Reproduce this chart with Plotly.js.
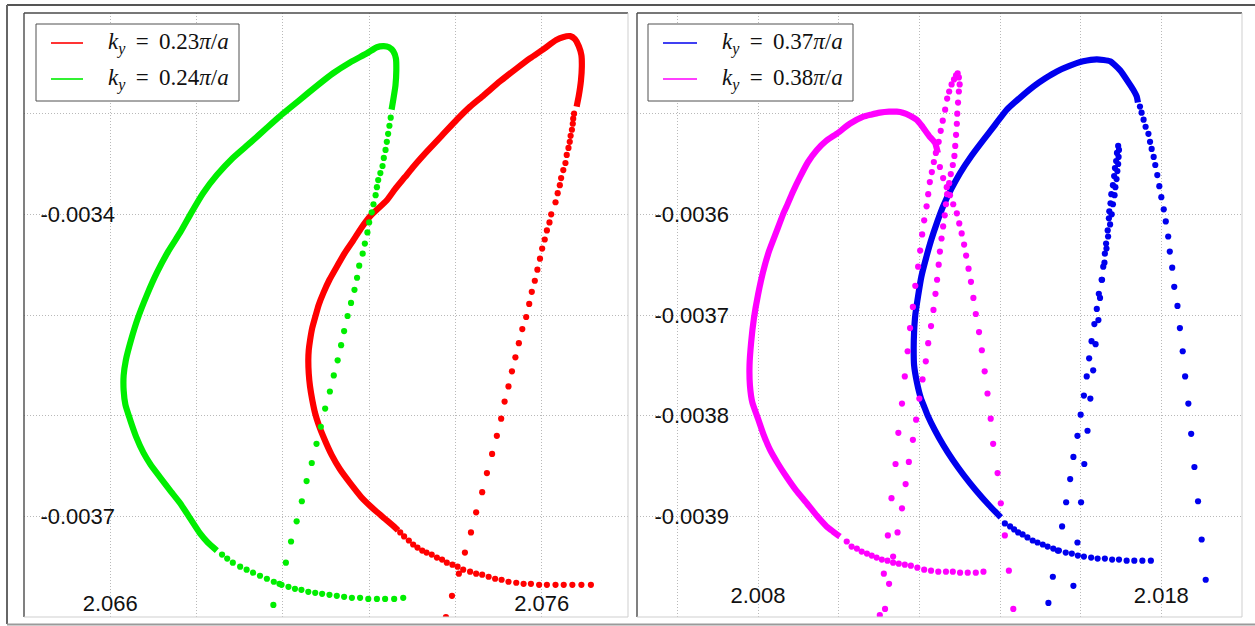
<!DOCTYPE html>
<html>
<head>
<meta charset="utf-8">
<script src="https://cdn.plot.ly/plotly-3.0.1.min.js"></script>
<style>html,body{margin:0;padding:0;background:#fff;}#chart{width:1255px;height:626px;}</style>
</head>
<body>
<div id="chart"></div>
<script>
// ---------- left panel: k_y = 0.23 pi/a (red) ----------
const red23LineX = [2.07681,2.07686,2.07691,2.07693,2.07692,2.07686,2.07677,2.07666,2.07649,2.07633,2.07604,2.07573,2.07542,2.07503,2.07465,2.07434,2.07403,2.07368,2.07333,2.07304,2.07283,2.07260,2.07241,2.07202,2.07181,2.07163,2.07144,2.07125,2.07108,2.07094,2.07083,2.07075,2.07068,2.07063,2.07060,2.07059,2.07060,2.07063,2.07068,2.07075,2.07083,2.07094,2.07113,2.07132,2.07156,2.07186,2.07216,2.07241,2.07260,2.07267];
const red23LineY = [-0.003293,-0.003282,-0.003267,-0.003253,-0.003242,-0.003233,-0.003226,-0.003223,-0.003224,-0.003227,-0.003236,-0.003245,-0.003255,-0.003268,-0.003282,-0.003293,-0.003306,-0.003322,-0.003338,-0.003352,-0.003363,-0.003375,-0.003386,-0.003402,-0.003414,-0.003426,-0.003438,-0.003452,-0.003465,-0.003478,-0.003490,-0.003502,-0.003513,-0.003525,-0.003535,-0.003545,-0.003558,-0.003571,-0.003584,-0.003598,-0.003609,-0.003621,-0.003639,-0.003653,-0.003667,-0.003683,-0.003695,-0.003704,-0.003711,-0.003714];
const red23BranchX = [2.07675,2.07673,2.07672,2.07670,2.07667,2.07665,2.07662,2.07658,2.07655,2.07650,2.07645,2.07642,2.07637,2.07632,2.07622,2.07618,2.07612,2.07607,2.07601,2.07596,2.07590,2.07584,2.07577,2.07571,2.07564,2.07555,2.07547,2.07539,2.07531,2.07523,2.07514,2.07506,2.07496,2.07485,2.07473,2.07462,2.07448,2.07436,2.07422,2.07408,2.07392,2.07378];
const red23BranchY = [-0.003300,-0.003305,-0.003310,-0.003316,-0.003322,-0.003328,-0.003334,-0.003341,-0.003349,-0.003356,-0.003364,-0.003371,-0.003379,-0.003388,-0.003400,-0.003408,-0.003416,-0.003425,-0.003434,-0.003444,-0.003455,-0.003466,-0.003477,-0.003489,-0.003502,-0.003514,-0.003528,-0.003542,-0.003556,-0.003571,-0.003586,-0.003603,-0.003620,-0.003638,-0.003657,-0.003676,-0.003696,-0.003716,-0.003736,-0.003757,-0.003779,-0.003800];
const red23TailX = [2.07272,2.07281,2.07292,2.07302,2.07312,2.07323,2.07333,2.07345,2.07357,2.07369,2.07380,2.07393,2.07405,2.07418,2.07434,2.07448,2.07462,2.07477,2.07492,2.07507,2.07523,2.07541,2.07558,2.07575,2.07594,2.07612,2.07632,2.07651,2.07671,2.07692,2.07714];
const red23TailY = [-0.003716,-0.003720,-0.003724,-0.003728,-0.003731,-0.003734,-0.003736,-0.003738,-0.003741,-0.003743,-0.003746,-0.003748,-0.003750,-0.003753,-0.003755,-0.003757,-0.003758,-0.003760,-0.003762,-0.003763,-0.003765,-0.003766,-0.003767,-0.003767,-0.003768,-0.003768,-0.003768,-0.003768,-0.003768,-0.003768,-0.003768];

// ---------- left panel: k_y = 0.24 pi/a (green) ----------
const green24LineX = [2.07252,2.07256,2.07261,2.07263,2.07262,2.07256,2.07246,2.07234,2.07218,2.07195,2.07156,2.07116,2.07077,2.07040,2.07000,2.06963,2.06924,2.06884,2.06847,2.06815,2.06787,2.06762,2.06734,2.06708,2.06685,2.06664,2.06648,2.06636,2.06631,2.06631,2.06635,2.06646,2.06660,2.06677,2.06694,2.06715,2.06738,2.06762,2.06785,2.06808,2.06826,2.06847];
const green24LineY = [-0.003296,-0.003286,-0.003272,-0.003257,-0.003245,-0.003238,-0.003234,-0.003233,-0.003234,-0.003240,-0.003249,-0.003260,-0.003273,-0.003286,-0.003300,-0.003314,-0.003329,-0.003344,-0.003361,-0.003379,-0.003399,-0.003418,-0.003437,-0.003458,-0.003480,-0.003503,-0.003525,-0.003545,-0.003560,-0.003575,-0.003589,-0.003604,-0.003621,-0.003637,-0.003649,-0.003661,-0.003674,-0.003687,-0.003702,-0.003717,-0.003726,-0.003734];
const green24BranchX = [2.07250,2.07247,2.07244,2.07241,2.07238,2.07234,2.07231,2.07226,2.07221,2.07218,2.07215,2.07210,2.07206,2.07200,2.07196,2.07190,2.07185,2.07177,2.07172,2.07166,2.07158,2.07150,2.07142,2.07135,2.07127,2.07118,2.07109,2.07098,2.07088,2.07078,2.07067,2.07055,2.07044,2.07032,2.07019,2.07007,2.06992,2.06978];
const green24BranchY = [-0.003304,-0.003312,-0.003320,-0.003328,-0.003336,-0.003344,-0.003352,-0.003359,-0.003366,-0.003373,-0.003381,-0.003390,-0.003398,-0.003408,-0.003418,-0.003429,-0.003439,-0.003451,-0.003463,-0.003475,-0.003488,-0.003501,-0.003516,-0.003530,-0.003545,-0.003560,-0.003576,-0.003593,-0.003611,-0.003628,-0.003647,-0.003665,-0.003685,-0.003705,-0.003725,-0.003746,-0.003767,-0.003788];
const green24TailX = [2.06859,2.06871,2.06884,2.06901,2.06916,2.06931,2.06947,2.06963,2.06979,2.06997,2.07013,2.07028,2.07043,2.07059,2.07075,2.07091,2.07108,2.07125,2.07142,2.07160,2.07179,2.07198,2.07218,2.07237,2.07258,2.07279];
const green24TailY = [-0.003738,-0.003742,-0.003746,-0.003750,-0.003753,-0.003756,-0.003759,-0.003762,-0.003765,-0.003768,-0.003770,-0.003772,-0.003773,-0.003775,-0.003776,-0.003777,-0.003778,-0.003779,-0.003780,-0.003781,-0.003781,-0.003782,-0.003782,-0.003782,-0.003782,-0.003781];

// ---------- right panel: k_y = 0.37 pi/a (blue) ----------
const blue37LineX = [2.01742,2.01739,2.01730,2.01717,2.01698,2.01673,2.01640,2.01606,2.01569,2.01541,2.01512,2.01483,2.01450,2.01417,2.01388,2.01359,2.01329,2.01301,2.01279,2.01259,2.01244,2.01229,2.01217,2.01205,2.01197,2.01190,2.01187,2.01186,2.01187,2.01194,2.01204,2.01214,2.01221,2.01238,2.01259,2.01283,2.01310,2.01340,2.01373,2.01402];
const blue37LineY = [-0.003489,-0.003483,-0.003476,-0.003468,-0.003457,-0.003448,-0.003446,-0.003448,-0.003453,-0.003458,-0.003465,-0.003473,-0.003484,-0.003496,-0.003511,-0.003526,-0.003542,-0.003559,-0.003575,-0.003592,-0.003608,-0.003626,-0.003643,-0.003662,-0.003681,-0.003700,-0.003717,-0.003733,-0.003750,-0.003767,-0.003783,-0.003793,-0.003800,-0.003814,-0.003829,-0.003844,-0.003859,-0.003874,-0.003889,-0.003901];
const blue37TailX = [2.01412,2.01425,2.01435,2.01445,2.01456,2.01468,2.01481,2.01493,2.01506,2.01518,2.01532,2.01546,2.01563,2.01578,2.01593,2.01608,2.01626,2.01642,2.01660,2.01678,2.01695,2.01714,2.01733,2.01753,2.01774];
const blue37TailY = [-0.003907,-0.003910,-0.003913,-0.003916,-0.003918,-0.003921,-0.003924,-0.003926,-0.003928,-0.003930,-0.003932,-0.003934,-0.003936,-0.003937,-0.003939,-0.003940,-0.003941,-0.003942,-0.003942,-0.003943,-0.003943,-0.003944,-0.003944,-0.003944,-0.003944];
const blue37OuterX = [2.01747,2.01751,2.01756,2.01761,2.01768,2.01772,2.01776,2.01781,2.01785,2.01790,2.01795,2.01800,2.01806,2.01811,2.01817,2.01821,2.01827,2.01832,2.01840,2.01846,2.01853,2.01859,2.01867,2.01874,2.01882,2.01891,2.01900,2.01910];
const blue37OuterY = [-0.003493,-0.003499,-0.003506,-0.003513,-0.003520,-0.003528,-0.003535,-0.003543,-0.003551,-0.003561,-0.003572,-0.003583,-0.003595,-0.003607,-0.003622,-0.003637,-0.003653,-0.003672,-0.003691,-0.003713,-0.003736,-0.003761,-0.003788,-0.003818,-0.003851,-0.003885,-0.003923,-0.003963];
const blue37SpikeLX = [2.01693,2.01690,2.01688,2.01685,2.01683,2.01680,2.01676,2.01674,2.01671,2.01670,2.01667,2.01663,2.01660,2.01656,2.01652,2.01645,2.01640,2.01634,2.01627,2.01621,2.01615,2.01608,2.01600,2.01592,2.01582,2.01574,2.01564,2.01554,2.01543,2.01531,2.01520];
const blue37SpikeLY = [-0.003532,-0.003539,-0.003547,-0.003554,-0.003562,-0.003571,-0.003580,-0.003589,-0.003597,-0.003604,-0.003616,-0.003629,-0.003639,-0.003652,-0.003665,-0.003679,-0.003694,-0.003709,-0.003726,-0.003743,-0.003761,-0.003780,-0.003799,-0.003820,-0.003841,-0.003863,-0.003886,-0.003910,-0.003934,-0.003960,-0.003986];
const blue37SpikeRX = [2.01695,2.01694,2.01693,2.01691,2.01689,2.01686,2.01684,2.01680,2.01677,2.01673,2.01668,2.01664,2.01659,2.01653,2.01648,2.01644,2.01637,2.01631,2.01624,2.01617,2.01609,2.01601,2.01592,2.01582];
const blue37SpikeRY = [-0.003536,-0.003543,-0.003550,-0.003557,-0.003565,-0.003573,-0.003581,-0.003590,-0.003600,-0.003610,-0.003622,-0.003634,-0.003648,-0.003665,-0.003683,-0.003705,-0.003729,-0.003755,-0.003783,-0.003815,-0.003848,-0.003886,-0.003926,-0.003969];

// ---------- right panel: k_y = 0.38 pi/a (magenta) ----------
const mag38LineX = [2.01246,2.01239,2.01224,2.01206,2.01193,2.01177,2.01159,2.01144,2.01125,2.01102,2.01080,2.01061,2.01028,2.00995,2.00969,2.00946,2.00924,2.00904,2.00886,2.00871,2.00863,2.00845,2.00827,2.00812,2.00800,2.00790,2.00783,2.00779,2.00780,2.00786,2.00801,2.00814,2.00830,2.00850,2.00871,2.00894,2.00921,2.00945,2.00970,2.00986,2.01003];
const mag38LineY = [-0.003539,-0.003529,-0.003522,-0.003512,-0.003506,-0.003502,-0.003499,-0.003498,-0.003498,-0.003499,-0.003501,-0.003503,-0.003510,-0.003520,-0.003527,-0.003536,-0.003548,-0.003563,-0.003578,-0.003592,-0.003599,-0.003618,-0.003637,-0.003658,-0.003680,-0.003703,-0.003727,-0.003750,-0.003770,-0.003787,-0.003804,-0.003819,-0.003834,-0.003848,-0.003861,-0.003874,-0.003887,-0.003899,-0.003910,-0.003915,-0.003920];
const mag38TailX = [2.01020,2.01032,2.01045,2.01057,2.01070,2.01082,2.01094,2.01107,2.01121,2.01135,2.01149,2.01164,2.01179,2.01195,2.01212,2.01229,2.01247,2.01266,2.01283,2.01301,2.01320,2.01340,2.01359];
const mag38TailY = [-0.003925,-0.003930,-0.003932,-0.003935,-0.003937,-0.003939,-0.003941,-0.003943,-0.003944,-0.003946,-0.003947,-0.003948,-0.003949,-0.003951,-0.003953,-0.003954,-0.003955,-0.003955,-0.003955,-0.003956,-0.003956,-0.003956,-0.003955];
const mag38OuterX = [2.01251,2.01259,2.01268,2.01276,2.01284,2.01293,2.01299,2.01305,2.01311,2.01316,2.01322,2.01328,2.01334,2.01340,2.01348,2.01355,2.01362,2.01369,2.01377,2.01383,2.01394,2.01402,2.01412,2.01422,2.01433];
const mag38OuterY = [-0.003553,-0.003564,-0.003573,-0.003581,-0.003590,-0.003599,-0.003609,-0.003619,-0.003630,-0.003641,-0.003654,-0.003667,-0.003683,-0.003699,-0.003717,-0.003735,-0.003756,-0.003778,-0.003803,-0.003828,-0.003857,-0.003887,-0.003919,-0.003954,-0.003992];
const mag38SpikeRX = [2.01295,2.01298,2.01300,2.01298,2.01296,2.01294,2.01293,2.01291,2.01289,2.01287,2.01283,2.01278,2.01274,2.01269,2.01266,2.01263,2.01259,2.01255,2.01251,2.01248,2.01244,2.01240,2.01235,2.01229,2.01222,2.01216,2.01208,2.01200,2.01192,2.01184,2.01174,2.01166,2.01157,2.01146,2.01135,2.01125,2.01115];
const mag38SpikeRY = [-0.003460,-0.003464,-0.003471,-0.003478,-0.003489,-0.003500,-0.003510,-0.003521,-0.003532,-0.003542,-0.003551,-0.003560,-0.003569,-0.003580,-0.003590,-0.003601,-0.003612,-0.003624,-0.003637,-0.003650,-0.003665,-0.003679,-0.003695,-0.003711,-0.003728,-0.003746,-0.003764,-0.003783,-0.003804,-0.003824,-0.003846,-0.003868,-0.003892,-0.003916,-0.003940,-0.003967,-0.003992];
const mag38SpikeLX = [2.01291,2.01286,2.01280,2.01274,2.01269,2.01264,2.01258,2.01253,2.01248,2.01241,2.01236,2.01231,2.01226,2.01222,2.01218,2.01212,2.01207,2.01202,2.01197,2.01190,2.01184,2.01177,2.01171,2.01164,2.01157,2.01148,2.01141,2.01131,2.01122,2.01112,2.01102];
const mag38SpikeLY = [-0.003462,-0.003466,-0.003471,-0.003478,-0.003485,-0.003496,-0.003507,-0.003517,-0.003528,-0.003539,-0.003548,-0.003558,-0.003568,-0.003580,-0.003592,-0.003606,-0.003620,-0.003636,-0.003652,-0.003671,-0.003692,-0.003713,-0.003736,-0.003761,-0.003788,-0.003817,-0.003848,-0.003882,-0.003919,-0.003957,-0.003998];

// ---------- axes ticks (labelled ticks + grid positions) ----------
const leftXLabelVals = [2.066, 2.076];
const leftXLabels = ['2.066', '2.076'];
const leftXGrid = [2.066, 2.068, 2.070, 2.072, 2.074, 2.076];
const leftYLabelVals = [-0.0037, -0.0034];
const leftYLabels = ['-0.0037', '-0.0034'];
const leftYGrid = [-0.0037, -0.0036, -0.0035, -0.0034, -0.0033];
const rightXLabelVals = [2.008, 2.018];
const rightXLabels = ['2.008', '2.018'];
const rightXGrid = [2.006, 2.008, 2.010, 2.012, 2.014, 2.016, 2.018];
const rightYLabelVals = [-0.0039, -0.0038, -0.0037, -0.0036];
const rightYLabels = ['-0.0039', '-0.0038', '-0.0037', '-0.0036'];
const rightYGrid = [-0.0039, -0.0038, -0.0037, -0.0036, -0.0035];

const seriesNames = ['0.23', '0.24', '0.37', '0.38'];
const seriesColors = ['#ff0000', '#00ee00', '#0000ee', '#ff00ff'];

// ---------- build traces ----------
const LW = 6.2, MS = 6.2;
function lineTrace(x, y, c, xa, ya) {
  return {x: x, y: y, mode: 'lines', line: {color: c, width: LW, shape: 'spline', smoothing: 0.5},
          xaxis: xa, yaxis: ya, showlegend: false, hoverinfo: 'skip'};
}
function dotTrace(x, y, c, xa, ya) {
  return {x: x, y: y, mode: 'markers', marker: {color: c, size: MS, line: {width: 0}},
          xaxis: xa, yaxis: ya, showlegend: false, hoverinfo: 'skip'};
}
const traces = [
  lineTrace(red23LineX, red23LineY, seriesColors[0], 'x', 'y'),
  dotTrace(red23BranchX, red23BranchY, seriesColors[0], 'x', 'y'),
  dotTrace(red23TailX, red23TailY, seriesColors[0], 'x', 'y'),
  lineTrace(green24LineX, green24LineY, seriesColors[1], 'x', 'y'),
  dotTrace(green24BranchX, green24BranchY, seriesColors[1], 'x', 'y'),
  dotTrace(green24TailX, green24TailY, seriesColors[1], 'x', 'y'),
  lineTrace(blue37LineX, blue37LineY, seriesColors[2], 'x2', 'y2'),
  dotTrace(blue37TailX, blue37TailY, seriesColors[2], 'x2', 'y2'),
  dotTrace(blue37OuterX, blue37OuterY, seriesColors[2], 'x2', 'y2'),
  dotTrace(blue37SpikeLX, blue37SpikeLY, seriesColors[2], 'x2', 'y2'),
  dotTrace(blue37SpikeRX, blue37SpikeRY, seriesColors[2], 'x2', 'y2'),
  lineTrace(mag38LineX, mag38LineY, seriesColors[3], 'x2', 'y2'),
  dotTrace(mag38TailX, mag38TailY, seriesColors[3], 'x2', 'y2'),
  dotTrace(mag38OuterX, mag38OuterY, seriesColors[3], 'x2', 'y2'),
  dotTrace(mag38SpikeRX, mag38SpikeRY, seriesColors[3], 'x2', 'y2'),
  dotTrace(mag38SpikeLX, mag38SpikeLY, seriesColors[3], 'x2', 'y2')
];

// ---------- layout ----------
const W = 1255, H = 626;
const px = v => v / W, py = v => 1 - v / H;
const tickFont = {family: 'Liberation Sans, Arial, sans-serif', size: 22, color: '#111'};
const gridColor = '#b9b9b9';
const gridDash = '1px,2px';
function axisStyle(labelVals, labels, gridVals, extra) {
  return Object.assign({
    showgrid: true, gridcolor: gridColor, gridwidth: 1, griddash: gridDash, zeroline: false, showline: false,
    ticks: '', tickfont: tickFont, fixedrange: true, tickmode: 'array', tickvals: labelVals, ticktext: labels,
    ticklabelposition: 'outside',
    minor: {tickmode: 'array', tickvals: gridVals, showgrid: true, gridcolor: gridColor, gridwidth: 1, griddash: gridDash, ticks: ''}
  }, extra);
}
function seg(x0, y0, x1, y1, c, w) {
  return {type: 'line', xref: 'paper', yref: 'paper', x0: px(x0), y0: py(y0), x1: px(x1), y1: py(y1),
          line: {color: c, width: w}, layer: 'above'};
}
function box(x0, y0, x1, y1) {
  return {type: 'rect', xref: 'paper', yref: 'paper', x0: px(x0), y0: py(y0), x1: px(x1), y1: py(y1),
          line: {color: '#505050', width: 1}, fillcolor: '#ffffff', layer: 'above'};
}
function legendText(i, x, y) {
  return {xref: 'paper', yref: 'paper', x: px(x), y: py(y), xanchor: 'left', yanchor: 'middle', showarrow: false,
          text: '<i>k</i><sub><i>y</i></sub>&nbsp;&#8201;=&nbsp;&#8201;' + seriesNames[i] + '<i>π</i>/<i>a</i>',
          font: {family: 'Liberation Serif, Times New Roman, serif', size: 23, color: '#111'}};
}
const dark = '#4a4a4a', light = '#cfcfcf';
const layout = {
  width: W, height: H, margin: {l: 0, r: 0, t: 0, b: 0}, paper_bgcolor: '#fff', plot_bgcolor: '#fff',
  showlegend: false,
  xaxis: axisStyle(leftXLabelVals, leftXLabels, leftXGrid,
          {domain: [px(24), px(628)], range: [2.064, 2.078], anchor: 'y', ticklabelstandoff: -29}),
  yaxis: axisStyle(leftYLabelVals, leftYLabels, leftYGrid,
          {domain: [py(617), py(13)], range: [-0.0038, -0.0032], anchor: 'x', ticklabelstandoff: -92}),
  xaxis2: axisStyle(rightXLabelVals, rightXLabels, rightXGrid,
          {domain: [px(637), px(1242)], range: [2.005, 2.020], anchor: 'y2', ticklabelstandoff: -37}),
  yaxis2: axisStyle(rightYLabelVals, rightYLabels, rightYGrid,
          {domain: [py(617), py(13)], range: [-0.0040, -0.0034], anchor: 'x2', ticklabelstandoff: -93}),
  shapes: [
    seg(7, 5, 1255, 5, '#555', 2), seg(7, 5, 7, 624, '#666', 2), seg(7, 624.5, 1255, 624.5, '#9a9a9a', 2),
    seg(24, 13, 628, 13, dark, 1.4), seg(24, 13, 24, 617, dark, 1.4),
    seg(628, 13, 628, 617, light, 1), seg(24, 617, 628, 617, light, 1),
    seg(637, 13, 1242, 13, dark, 1.4), seg(637, 13, 637, 617, dark, 1.4),
    seg(1242, 13, 1242, 617, light, 1), seg(637, 617, 1242, 617, light, 1),
    box(36, 24, 239, 101), seg(51, 43, 83, 43, seriesColors[0], 1.6), seg(51, 79, 83, 79, seriesColors[1], 1.6),
    box(648, 24, 853, 101), seg(663, 43, 697, 43, seriesColors[2], 1.6), seg(663, 79, 697, 79, seriesColors[3], 1.6)
  ],
  annotations: [legendText(0, 106, 43), legendText(1, 106, 79), legendText(2, 720, 43), legendText(3, 720, 79)]
};
Plotly.newPlot('chart', traces, layout, {displayModeBar: false, staticPlot: true});
</script>
</body>
</html>
